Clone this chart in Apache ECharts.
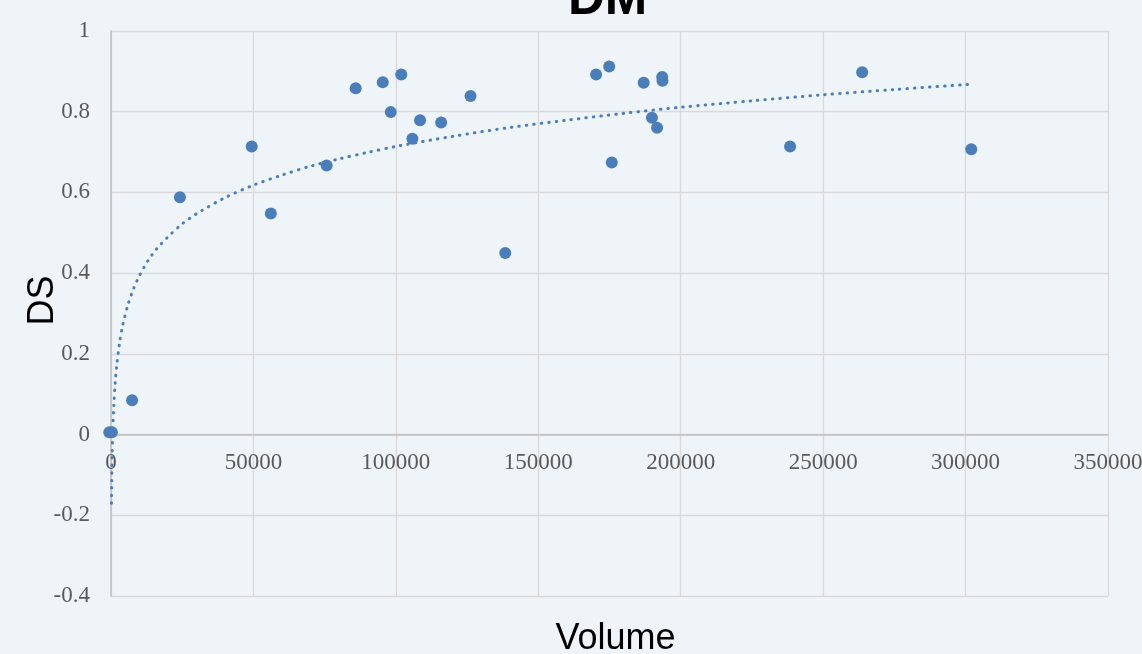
<!DOCTYPE html>
<html>
<head>
<meta charset="utf-8">
<script src="https://cdn.jsdelivr.net/npm/echarts@6/dist/echarts.min.js"></script>
<style>
html,body{margin:0;padding:0;background:#eff4f9;}
#chart{width:1142px;height:654px;}
</style>
</head>
<body>
<div id="chart"></div>
<script>
// Title and axis names
const chartTitle = 'DM';
const xName = 'Volume';
const yName = 'DS';

// Tick labels
const xTicks = [0, 50000, 100000, 150000, 200000, 250000, 300000, 350000];
const yTicks = [-0.4, -0.2, 0, 0.2, 0.4, 0.6, 0.8, 1];

const volume = [-600, 300, 7400, 24200, 49400, 56100, 75700, 85900, 95400, 98200, 101900,
  108500, 105800, 115900, 126200, 138400, 170300, 174900, 175800, 187000,
  193500, 193600, 189900, 191700, 238400, 263700, 302000];
const ds = [0.006, 0.006, 0.085, 0.588, 0.714, 0.548, 0.667, 0.858, 0.873, 0.799, 0.892,
  0.779, 0.733, 0.773, 0.839, 0.450, 0.892, 0.912, 0.674, 0.872,
  0.886, 0.877, 0.785, 0.760, 0.714, 0.898, 0.707];

// Dotted trend line points
const trendX = [170, 250, 400, 600, 1000, 1500, 2000, 3000, 4000, 6000, 8000, 10000, 13000,
  16000, 20000, 25000, 30000, 40000, 50000, 60000, 70000, 80000, 90000, 100000, 120000,
  140000, 160000, 180000, 200000, 225000, 250000, 275000, 302000];
const trendY = [-0.170, -0.120, -0.053, 0.003, 0.074, 0.130, 0.170, 0.227, 0.267, 0.323,
  0.363, 0.394, 0.431, 0.460, 0.490, 0.522, 0.547, 0.587, 0.618, 0.643, 0.665, 0.683,
  0.699, 0.714, 0.739, 0.761, 0.779, 0.796, 0.811, 0.827, 0.842, 0.855, 0.868];

const blue = '#4a7ebb';
const chart = echarts.init(document.getElementById('chart'));
chart.setOption({
  backgroundColor: '#eff4f9',
  animation: false,
  title: {
    text: chartTitle,
    left: 568,
    top: -26,
    padding: 0,
    textStyle: {fontFamily: 'Liberation Sans', fontWeight: 'bold', fontSize: 51, color: '#000', lineHeight: 51}
  },
  grid: {left: 111, top: 31, right: 34, bottom: 58, containLabel: false, outerBoundsMode: 'none'},
  xAxis: {
    type: 'value',
    min: xTicks[0], max: xTicks[xTicks.length - 1], interval: xTicks[1] - xTicks[0],
    offset: -161.4,
    name: xName, nameLocation: 'middle', nameGap: 186, nameMoveOverlap: false,
    nameTextStyle: {fontFamily: 'Liberation Sans', fontSize: 36, color: '#000', padding: [0, 0, 0, 12]},
    axisLine: {onZero: false, lineStyle: {color: '#bfbfbf', width: 1.5}},
    axisTick: {show: false},
    axisLabel: {fontFamily: 'Liberation Serif', fontSize: 23, color: '#595959', margin: 17,
      showMaxLabel: true, showMinLabel: true, formatter: v => String(v)},
    splitLine: {show: true, lineStyle: {color: '#d9d9d9', width: 1.3}}
  },
  yAxis: {
    type: 'value',
    min: yTicks[0], max: yTicks[yTicks.length - 1], interval: 0.2,
    name: yName, nameLocation: 'middle', nameGap: 50, nameRotate: 90, nameMoveOverlap: false,
    nameTextStyle: {fontFamily: 'Liberation Sans', fontSize: 36, color: '#000', padding: [0, 0, 0, 26]},
    axisLine: {show: true, onZero: false, lineStyle: {color: '#bfbfbf', width: 1.5}},
    axisTick: {show: false},
    axisLabel: {fontFamily: 'Liberation Serif', fontSize: 23, color: '#595959', margin: 21,
      formatter: v => String(Math.round(v * 10) / 10)},
    splitLine: {show: true, lineStyle: {color: '#d9d9d9', width: 1.3}}
  },
  series: [
    {
      type: 'line',
      data: trendX.map((x, i) => [x, trendY[i]]),
      showSymbol: false,
      smooth: 0.3,
      clip: false,
      lineStyle: {color: blue, width: 3, type: [0.5, 7], cap: 'round'},
      z: 2
    },
    {
      type: 'scatter',
      data: volume.map((x, i) => [x, ds[i]]),
      symbolSize: 12,
      clip: false,
      itemStyle: {color: blue, opacity: 1},
      z: 3
    }
  ]
});
</script>
</body>
</html>
